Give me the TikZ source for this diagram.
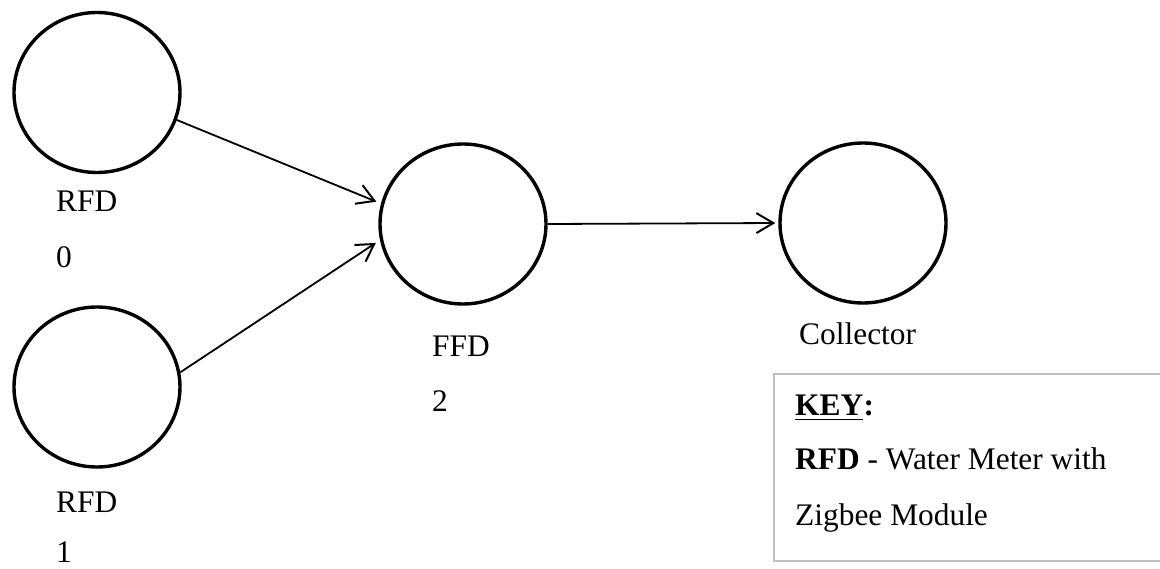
\documentclass[tikz,border=0pt]{standalone}
\usepackage{fontspec}
\setmainfont{Liberation Serif}
\usetikzlibrary{shapes.geometric,arrows.meta}
\definecolor{keygray}{RGB}{191,191,191}
\tikzset{
  device/.style={ellipse, draw, line width=3.4pt, minimum width=166pt, minimum height=160pt, inner sep=0pt},
  link/.style={line width=1.8pt, -{Straight Barb[length=17pt,width=20pt,line width=2pt]}},
  lbl/.style={anchor=base west, inner sep=0pt, font=\fontsize{31.4}{36}\selectfont}
}
\begin{document}
\begin{tikzpicture}[x=1pt,y=-1pt]
  \useasboundingbox (0,0) rectangle (1160,569);

  % devices
  \node[device] (rfd0) at (97,92.5) {};
  \node[device] (rfd1) at (97,387) {};
  \node[device] (ffd2) at (463,224) {};
  \node[device] (coll) at (863,223) {};

  % device labels
  \node[lbl] (rfd0a) at (56,212) {RFD};
  \node[lbl] (rfd0b) at (56,268) {0};
  \node[lbl] (rfd1a) at (56,512) {RFD};
  \node[lbl] (rfd1b) at (56,562) {1};
  \node[lbl] (ffd2a) at (432,357) {FFD};
  \node[lbl] (ffd2b) at (432,412) {2};
  \node[lbl] (colla) at (799,345) {Collector};

  % links
  \draw[link, shorten >=5pt] (rfd0.-19.6) -- (ffd2.166);
  \draw[link, shorten >=5pt] (rfd1.10) -- (ffd2.191);
  \draw[link, shorten >=3pt] (ffd2.east) -- (coll.west);

  % key frame (runs off the right edge)
  \draw[keygray, line width=2pt] (1162,374) -- (774,374) -- (774,561) -- (1162,561);

  % key text
  \node[lbl] (keyw) at (795,415) {\textbf{KEY}};
  \node[lbl] (keyc) at (keyw.base east) {\textbf{:}};
  \draw[line width=1.5pt] ([yshift=-4.5pt]keyw.base west) -- ([yshift=-4.5pt]keyw.base east);
  \node[lbl] (key1) at (795,469) {\textbf{RFD} - Water Meter with};
  \node[lbl] (key2) at (795,525) {Zigbee Module};
\end{tikzpicture}
\end{document}
